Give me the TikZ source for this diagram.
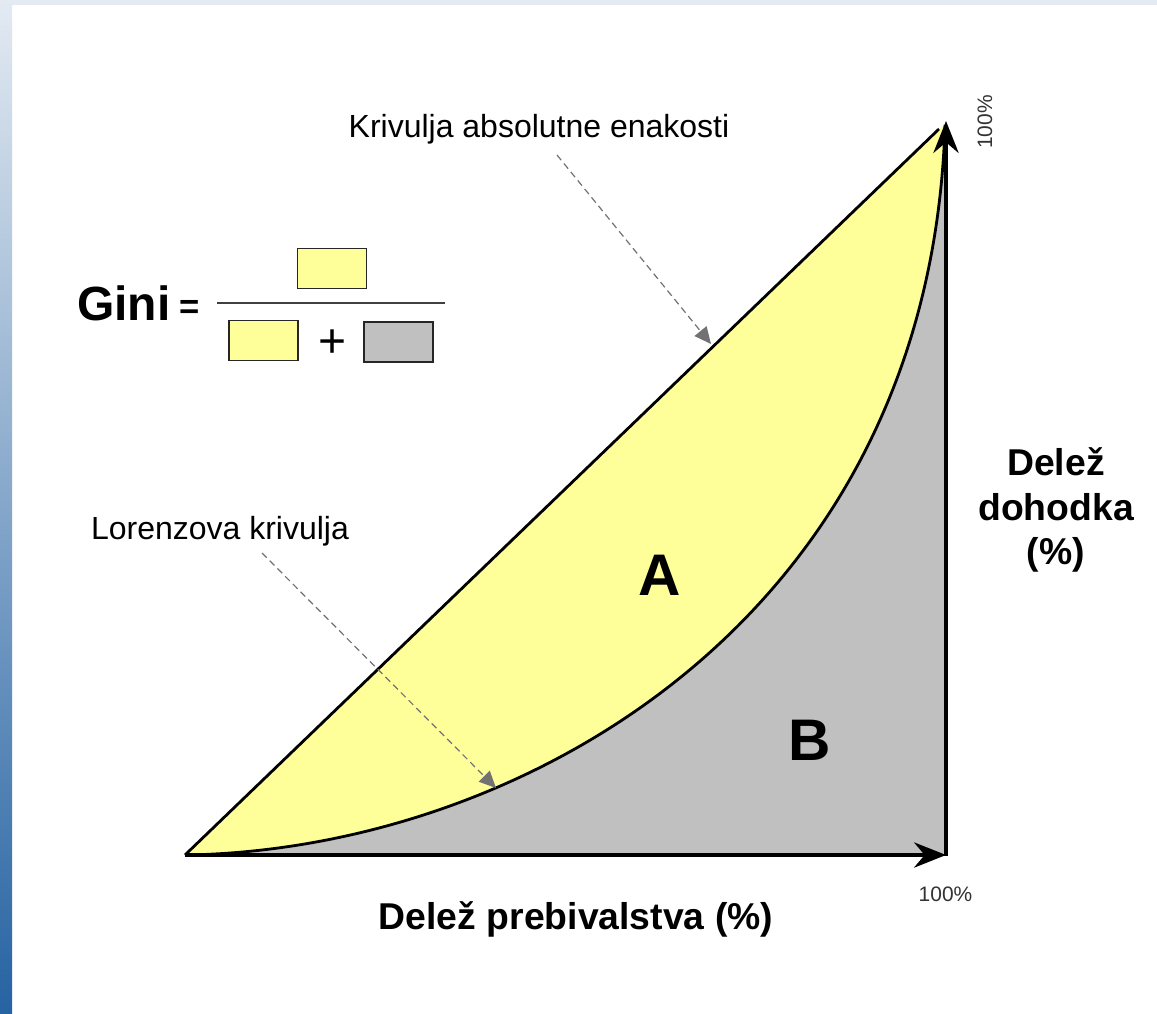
\documentclass[tikz,border=0pt]{standalone}
\usepackage{fontspec}
\setmainfont{Liberation Sans}
\usetikzlibrary{arrows.meta}
\definecolor{fillyellow}{HTML}{FFFF99}
\definecolor{fillgray}{HTML}{C0C0C0}
\definecolor{striptop}{HTML}{E3EAF2}
\definecolor{stripbot}{HTML}{2663A2}
\definecolor{dashgray}{HTML}{727272}
\definecolor{smalltext}{HTML}{333333}
\begin{document}
\begin{tikzpicture}[x=0.75pt,y=-0.75pt,
  axisline/.style={line width=2.4pt, -{Stealth[length=24pt,width=19pt,inset=8pt]}},
  curveline/.style={line width=2.1pt},
  dasharrow/.style={dashgray, line width=0.9pt, dash pattern=on 5pt off 3.2pt,
    -{Triangle[length=12.5pt,width=11.5pt]}},
  fbox/.style={draw=black!85, line width=1.1pt, minimum width=52pt, minimum height=30pt, inner sep=0pt},
  lbl/.style={inner sep=0pt, font=\fontsize{24}{28}\selectfont},
  boldlbl/.style={inner sep=0pt, font=\fontsize{28}{33}\selectfont\bfseries},
  pct/.style={inner sep=0pt, text=smalltext, font=\fontsize{15.7}{18}\selectfont},
  big/.style={inner sep=0pt, font=\fontsize{44}{50}\selectfont\bfseries}
]
\useasboundingbox (0,0) rectangle (1157,1014);
\fill[white] (0,0) rectangle (1157,1014);
\fill[striptop] (0,0) rectangle (1157,5);
\shade[top color=striptop, bottom color=stripbot] (0,0) rectangle (12,1014);

% key points
\coordinate (O) at (185,855);
\coordinate (X) at (946,855);
\coordinate (Y) at (946,121);
\coordinate (T) at (945,125);
\coordinate (D) at (939,129);

% areas
\fill[fillgray] (O) .. controls (520,850) and (930,620) .. (T) -- (946,855) -- cycle;
\fill[fillyellow] (O) -- (D) -- (T) .. controls (930,620) and (520,850) .. (O) -- cycle;

% lines
\draw[curveline] (O) .. controls (520,850) and (930,620) .. (T);
\draw[curveline] (O) -- (D);
\draw[axisline] (O) -- (X);
\draw[axisline] (946,856) -- (Y);

% labels
\node[big] (A) at (660,575) {A};
\node[big] (B) at (810,740) {B};
\node[lbl, anchor=base] (abs) at (539,137) {Krivulja absolutne enakosti};
\node[lbl, anchor=base] (lor) at (220,539) {Lorenzova krivulja};
\node[boldlbl, anchor=base] (d1) at (1056,475) {Delež};
\node[boldlbl, anchor=base] (d2) at (1056,520) {dohodka};
\node[boldlbl, anchor=base] (d3) at (1056,564) {(\%)};
\node[boldlbl, anchor=base] (px) at (576,929) {Delež prebivalstva (\%)};
\node[pct, anchor=base] (p100x) at (945.5,901) {100\%};
\node[pct, rotate=90] (p100y) at (985,122) {100\%};

% dashed pointers
\coordinate (a1s) at (557,155);
\coordinate (a1e) at (711,344);
\coordinate (a2s) at (262,553);
\coordinate (a2e) at (496,788);
\draw[dasharrow] (a1s) -- (a1e);
\draw[dasharrow] (a2s) -- (a2e);

% Gini formula
\node[inner sep=0pt, anchor=base west, font=\fontsize{36}{40}\selectfont\bfseries] (gini) at (77,320) {Gini};
\node[inner sep=0pt, anchor=base, font=\fontsize{26}{30}\selectfont\bfseries] (eq) at (190,318) {=};
\coordinate (fl) at (217,303);
\coordinate (fr) at (445,303);
\draw[black!75, line width=1pt] (fl) -- (fr);
\node[fbox, fill=fillyellow] (num) at (332,268.5) {};
\node[fbox, fill=fillyellow] (den1) at (263.5,340.5) {};
\node[inner sep=0pt, font=\fontsize{36}{40}\selectfont] (plus) at (333,344) {+};
\node[fbox, fill=fillgray] (den2) at (398.5,342) {};
\end{tikzpicture}
\end{document}
